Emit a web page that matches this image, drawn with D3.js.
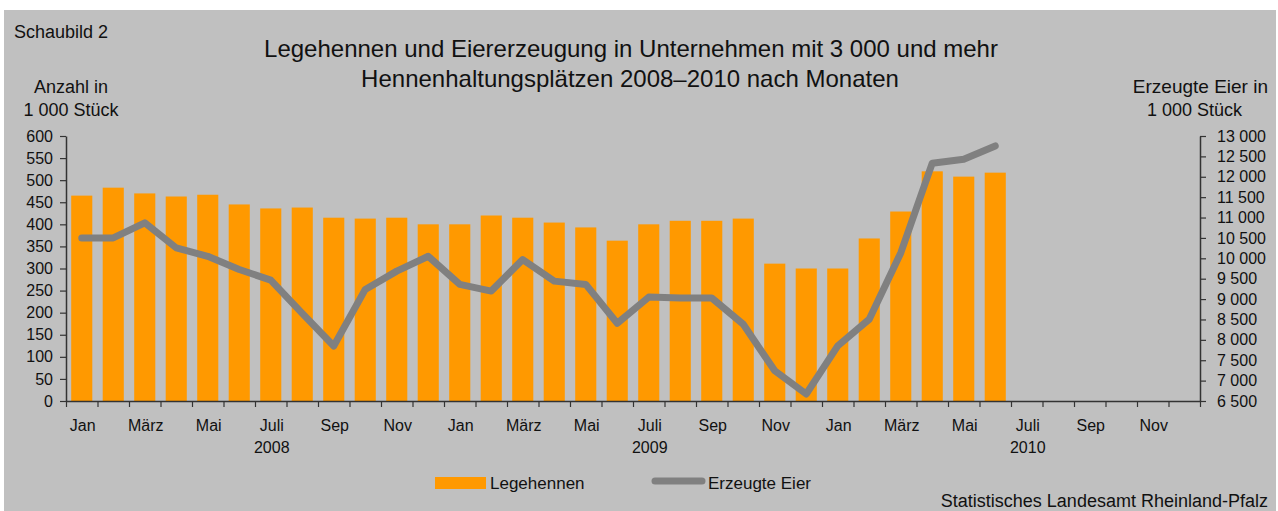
<!DOCTYPE html>
<html>
<head>
<meta charset="utf-8">
<script src="https://cdn.jsdelivr.net/npm/d3@7"></script>
<style>
  body { margin: 0; background: #fff; }
  text { font-family: "Liberation Sans", Arial, sans-serif; fill: #111; }
</style>
</head>
<body>
<svg id="chart" width="1278" height="511"></svg>
<script>
// Monate Jan 2008 - Dez 2010
var monthNames = ["Jan","Feb","März","April","Mai","Juni","Juli","Aug","Sep","Okt","Nov","Dez"];
var years = ["2008","2009","2010"];
// Legehennen in 1 000 Stück (Jan 2008 - Jun 2010)
var hennen = [465,483,470,463,467,445,436,438,415,413,415,400,
              400,420,415,404,393,363,400,408,408,413,311,300,
              300,368,429,520,508,517];
// Erzeugte Eier in 1 000 Stück
var eier = [10500,10500,10870,10256,10050,9726,9465,8650,7850,9237,9685,10050,
            9360,9196,9970,9440,9360,8406,9049,9025,9025,8382,7241,6671,
            7852,8504,10133,12333,12431,12756];
var leftTicks = d3.range(0, 601, 50);
var rightTicks = d3.range(6500, 13001, 500);

var months = [];
years.forEach(function (y) {
    monthNames.forEach(function (m, i) { months.push({key: y + "-" + i, m: m, i: i, year: y}); });
});

var svg = d3.select("#chart");
var fmt = function (v) { return d3.format(",")(v).replace(/,/g, " "); };

// Hintergrund
svg.append("rect").attr("x", 4).attr("y", 10).attr("width", 1272).attr("height", 501).attr("fill", "#c0c0c0");

var pLeft = 66, pRight = 1200, pTop = 136, pBottom = 401;

var x = d3.scaleBand().domain(months.map(function (d) { return d.key; }))
    .range([pLeft, pRight]).paddingInner(0.33).paddingOuter(0.165);
var yL = d3.scaleLinear().domain([0, 600]).range([pBottom, pTop]);
var yR = d3.scaleLinear().domain([6500, 13000]).range([pBottom, pTop]);

// Balken
svg.selectAll(".bar")
    .data(hennen)
    .enter()
    .append("rect")
    .attr("class", "bar")
    .attr("x", function (d, i) { return x(months[i].key); })
    .attr("y", function (d) { return yL(d); })
    .attr("width", x.bandwidth())
    .attr("height", function (d) { return yL(0) - yL(d); })
    .attr("fill", "#ff9900");

// Linie
var line = d3.line()
    .x(function (d, i) { return x(months[i].key) + x.bandwidth() / 2; })
    .y(function (d) { return yR(d); });
svg.append("path")
    .datum(eier)
    .attr("d", line)
    .attr("fill", "none")
    .attr("stroke", "#808080")
    .attr("stroke-width", 7)
    .attr("stroke-linejoin", "round")
    .attr("stroke-linecap", "round");

// Achsen
var axisColor = "#333";
var gL = svg.append("g").attr("transform", "translate(" + pLeft + ",0)")
    .call(d3.axisLeft(yL).tickValues(leftTicks).tickSize(6).tickPadding(7).tickSizeOuter(0));
var gR = svg.append("g").attr("transform", "translate(" + pRight + ",0)")
    .call(d3.axisRight(yR).tickValues(rightTicks).tickFormat(fmt).tickSize(6).tickPadding(11).tickSizeOuter(0));

var xb = d3.scaleLinear().domain([0, 36]).range([pLeft, pRight]);
var gX = svg.append("g").attr("transform", "translate(0," + pBottom + ")")
    .call(d3.axisBottom(xb).tickValues(d3.range(0, 37)).tickFormat("").tickSize(6).tickSizeOuter(0));

[gL, gR, gX].forEach(function (g) {
    g.select(".domain").attr("stroke", axisColor).attr("stroke-width", 1.5);
    g.selectAll(".tick line").attr("stroke", axisColor).attr("stroke-width", 1.2);
    g.selectAll(".tick text").style("font-family", "Liberation Sans, Arial, sans-serif")
        .style("font-size", "16px").attr("fill", "#111");
});

// Monatsbeschriftung
svg.selectAll(".mlab")
    .data(months.filter(function (d) { return d.i % 2 === 0; }))
    .enter()
    .append("text")
    .attr("class", "mlab")
    .attr("x", function (d) { return x(d.key) + x.bandwidth() / 2 + 1; })
    .attr("y", 431)
    .attr("text-anchor", "middle")
    .style("font-size", "16px")
    .text(function (d) { return d.m; });

svg.selectAll(".ylab")
    .data(years)
    .enter()
    .append("text")
    .attr("class", "ylab")
    .attr("x", function (d) { return x(d + "-6") + x.bandwidth() / 2 + 1; })
    .attr("y", 453)
    .attr("text-anchor", "middle")
    .style("font-size", "16px")
    .text(function (d) { return d; });

// Titel und Texte
svg.append("text").attr("x", 14).attr("y", 38).style("font-size", "18px").text("Schaubild 2");
svg.append("text").attr("x", 631).attr("y", 57).attr("text-anchor", "middle").style("font-size", "24px")
    .text("Legehennen und Eiererzeugung in Unternehmen mit 3 000 und mehr");
svg.append("text").attr("x", 630).attr("y", 87).attr("text-anchor", "middle").style("font-size", "24px")
    .text("Hennenhaltungsplätzen 2008–2010 nach Monaten");

svg.append("text").attr("x", 71).attr("y", 93).attr("text-anchor", "middle").style("font-size", "18px").text("Anzahl in");
svg.append("text").attr("x", 71).attr("y", 116).attr("text-anchor", "middle").style("font-size", "18px").text("1 000 Stück");
svg.append("text").attr("x", 1268).attr("y", 93).attr("text-anchor", "end").style("font-size", "19px").text("Erzeugte Eier in");
svg.append("text").attr("x", 1242).attr("y", 116).attr("text-anchor", "end").style("font-size", "18px").text("1 000 Stück");

// Legende
svg.append("rect").attr("x", 435).attr("y", 477).attr("width", 51).attr("height", 12).attr("fill", "#ff9900");
svg.append("text").attr("x", 490).attr("y", 489).style("font-size", "17px").text("Legehennen");
svg.append("line").attr("x1", 655).attr("x2", 702).attr("y1", 481).attr("y2", 481)
    .attr("stroke", "#808080").attr("stroke-width", 7).attr("stroke-linecap", "round");
svg.append("text").attr("x", 708).attr("y", 489).style("font-size", "17px").text("Erzeugte Eier");

svg.append("text").attr("x", 1268).attr("y", 507).attr("text-anchor", "end").style("font-size", "18px")
    .text("Statistisches Landesamt Rheinland-Pfalz");
</script>
</body>
</html>
